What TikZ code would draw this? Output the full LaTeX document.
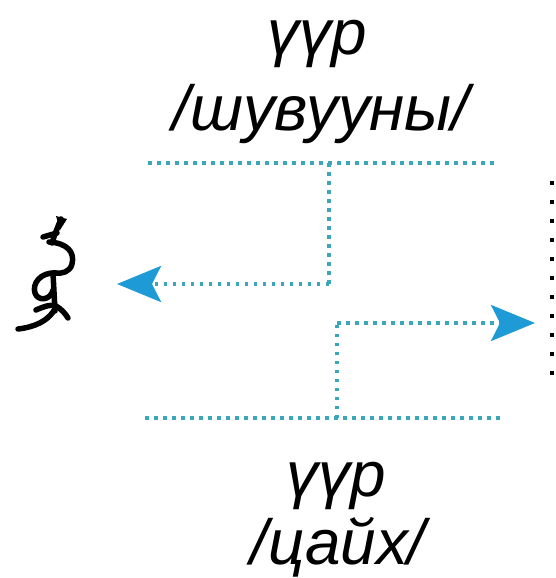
\documentclass[tikz,border=0pt]{standalone}
\usepackage{fontspec}
\setmainfont{Liberation Sans}
\usetikzlibrary{arrows.meta}
\definecolor{dotteal}{HTML}{3AA6B9}
\definecolor{arrowblue}{HTML}{1E9AD6}
\begin{document}
\begin{tikzpicture}[x=1bp,y=-1bp,
  lbl/.style={font=\fontsize{64}{70}\selectfont\itshape, inner sep=0pt, anchor=base},
  dotline/.style={draw=dotteal, line width=3.5bp, dash pattern=on 3.5bp off 5.5bp},
  arr/.style={-{Stealth[length=44bp,width=36bp,inset=9bp,color=arrowblue,fill=arrowblue]}},
  glyph/.style={draw=black, line width=5.5bp, line cap=round, line join=round},
  edgedots/.style={draw=black, line width=4bp, dash pattern=on 4bp off 15bp}]
\useasboundingbox (0,0) rectangle (556,578);
% texts
\node[lbl] (t1) at (317,55) {үүр};
\node[lbl] (t2) at (321,131) {/шувууны/};
\node[lbl] (b1) at (336,496) {үүр};
\node[lbl] (b2) at (338,564) {/цайх/};
% junction coordinates
\coordinate (tl) at (148,163);
\coordinate (tr) at (498,163);
\coordinate (tj) at (329,163);
\coordinate (uk) at (329,284);
\coordinate (lt) at (117,284);
\coordinate (bl) at (145,418);
\coordinate (br) at (500,418);
\coordinate (bj) at (337,418);
\coordinate (lk) at (337,323);
\coordinate (rt) at (535,323);
% dotted lines
\draw[dotline] (tl) -- (tr);
\draw[dotline] (bl) -- (br);
\draw[dotline] (tj) -- (uk);
\draw[dotline, arr] (uk) -- (lt);
\draw[dotline] (bj) -- (lk);
\draw[dotline, arr] (lk) -- (rt);
% right edge dotted stroke
\coordinate (e1) at (552,181);
\coordinate (e2) at (552,375);
\draw[edgedots] (e1) -- (e2);
% Mongolian glyph drawn as strokes
\fill[black] (56,216) -- (67,219) -- (60,230) -- cycle;
\draw[glyph] (61,219) -- (55,234) -- (52,243);
\draw[glyph] (43,237) -- (57,233);
\draw[glyph] (49,242) .. controls (67,243) and (75,252) .. (72,264) .. controls (70,272) and (62,274) .. (55,273);
\draw[glyph] (56,273) .. controls (40,272) and (32,284) .. (35,293) .. controls (38,302) and (51,300) .. (53,290);
\draw[glyph] (53,273) -- (55,311);
\draw[glyph] (36,310) .. controls (45,306) and (52,304) .. (56,306) .. controls (61,309) and (65,313) .. (68,318);
\draw[glyph] (55,309) .. controls (48,321) and (35,327) .. (18,329);
\end{tikzpicture}
\end{document}
